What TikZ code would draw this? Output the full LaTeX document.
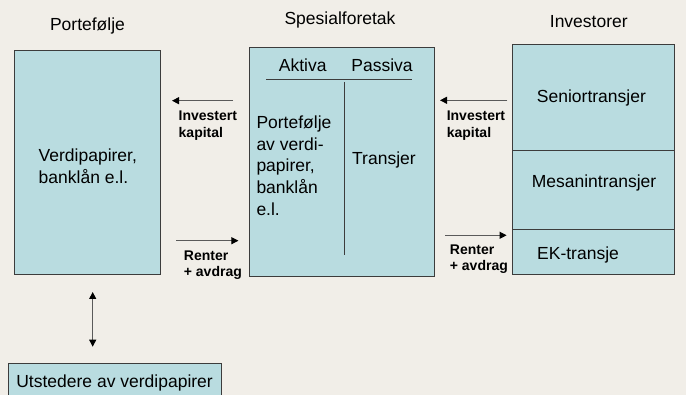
\documentclass[tikz,border=0pt]{standalone}
\usepackage{fontspec}
\setmainfont{Liberation Sans}
\usetikzlibrary{arrows.meta}
\definecolor{bg}{RGB}{241,238,232}
\definecolor{boxfill}{RGB}{185,220,224}
\definecolor{edge}{RGB}{60,60,60}
\definecolor{arrowgray}{RGB}{90,90,90}
\begin{document}
\begin{tikzpicture}[x=1pt,y=-1pt,
  box/.style={draw=edge, line width=1pt, fill=boxfill, inner sep=0pt},
  txt/.style={inner sep=0pt, font=\fontsize{17.5}{21.7}\selectfont},
  lbl/.style={inner sep=0pt, align=left, anchor=west, font=\fontsize{14}{16.5}\selectfont\bfseries},
  flow/.style={draw=arrowgray, line width=1pt, -{Triangle[length=7pt,width=7pt,fill=black,color=black]}},
  tline/.style={draw=edge, line width=1pt}]
\useasboundingbox (0,0) rectangle (686,395);
\fill[bg] (0,0) rectangle (686,395);
% boxes
\draw[box] (14.4,50.7) rectangle (160.1,274.3);
\node[inner sep=0pt] (pf) at (87.25,162.5) {};
\draw[box] (249.3,47.3) rectangle (434,276.7);
\node[inner sep=0pt] (sf) at (341.6,162) {};
\draw[box] (512.7,45) rectangle (674.5,274.3);
\draw[tline] (512.7,151) -- (674.5,151);
\draw[tline] (512.7,229.3) -- (674.5,229.3);
\draw[box] (8.7,363.3) rectangle (221.4,400);
% titles
\node[txt] (t1) at (87.5,26) {Portefølje};
\node[txt] (t2) at (340,20) {Spesialforetak};
\node[txt] (t3) at (588.8,21.3) {Investorer};
% left box text
\node[txt, align=left, anchor=west] (vp) at (38.5,166) {Verdipapirer,\\banklån e.l.};
% balance sheet
\node[txt] (akt) at (302.7,65) {Aktiva};
\node[txt] (pas) at (382,65) {Passiva};
\coordinate (hl1) at (266,79.3);
\coordinate (hl2) at (412,79.3);
\draw[tline] (hl1) -- (hl2);
\coordinate (vl1) at (344.3,82);
\coordinate (vl2) at (344.3,255.3);
\draw[tline] (vl1) -- (vl2);
\node[txt, align=left, anchor=west] (akttxt) at (256.3,165.5) {Portefølje\\av verdi-\\papirer,\\banklån\\e.l.};
\node[txt, anchor=west] (trans) at (352,160) {Transjer};
% investor tranches
\node[txt] (sen) at (591.4,98.3) {Seniortransjer};
\node[txt] (mes) at (594,183.3) {Mesanintransjer};
\node[txt, anchor=west] (ek) at (537,255.3) {EK-transje};
% bottom box
\node[txt] (utst) at (114.6,382.5) {Utstedere av verdipapirer};
% arrows
\coordinate (a1s) at (233,100.7); \coordinate (a1e) at (172,100.7);
\draw[flow] (a1s) -- (a1e);
\node[lbl] (l1) at (178.5,125.5) {Investert\\kapital};
\coordinate (a2s) at (176,240.7); \coordinate (a2e) at (238.4,240.7);
\draw[flow] (a2s) -- (a2e);
\node[lbl] (l2) at (183.7,265) {Renter\\+ avdrag};
\coordinate (a3s) at (507.4,100.3); \coordinate (a3e) at (440,100.3);
\draw[flow] (a3s) -- (a3e);
\node[lbl] (l3) at (446.6,125.5) {Investert\\kapital};
\coordinate (a4s) at (445,235.3); \coordinate (a4e) at (506.6,235.3);
\draw[flow] (a4s) -- (a4e);
\node[lbl] (l4) at (449.7,259) {Renter\\+ avdrag};
\coordinate (a5s) at (92.7,292); \coordinate (a5e) at (92.7,346.7);
\draw[flow, {Triangle[length=7pt,width=7pt,fill=black,color=black]}-{Triangle[length=7pt,width=7pt,fill=black,color=black]}] (a5s) -- (a5e);
\end{tikzpicture}
\end{document}
